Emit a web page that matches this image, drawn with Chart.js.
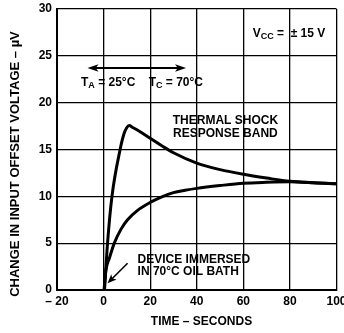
<!DOCTYPE html>
<html>
<head>
<meta charset="utf-8">
<script src="https://cdn.jsdelivr.net/npm/chart.js@4/dist/chart.umd.min.js"></script>
<style>
html,body{margin:0;padding:0;background:#fff;overflow:hidden;width:344px;height:333px;}
canvas{display:block;}
</style>
</head>
<body>
<canvas id="c" width="352" height="333"></canvas>
<script>
// ---- data ----
const xTicks = [-20, 0, 20, 40, 60, 80, 100];
const yTicks = [0, 5, 10, 15, 20, 25, 30];
const upperTime = [0.4, 1.7, 3.6, 7.1, 8.8, 10.0, 11.0, 12.5, 15, 20, 25, 30, 40, 50, 60, 70, 80, 90, 100];
const upperVolt = [0, 5.0, 10.0, 15.0, 16.7, 17.35, 17.55, 17.35, 17.0, 16.2, 15.4, 14.65, 13.55, 12.85, 12.35, 11.95, 11.6, 11.45, 11.35];
const lowerTime = [0.2, 1.0, 2.5, 4.6, 7.5, 10.3, 14.6, 20, 25, 30, 35, 40, 50, 60, 70, 80, 90, 100];
const lowerVolt = [0, 2.1, 3.4, 5.0, 6.5, 7.5, 8.5, 9.35, 9.95, 10.4, 10.65, 10.85, 11.15, 11.4, 11.5, 11.55, 11.45, 11.35];

const FONT = '"Liberation Sans", Arial, sans-serif';

function pts(t, v){ return t.map((x,i)=>({x:x, y:v[i]})); }

// annotations (data coordinates)
const notes = {
  vcc:   {x: 64, y: 27.0},
  temp:  {x: -9.7, y: 21.8},
  tArrow:{x1: -6.9, x2: 35.4, y: 23.7},
  band:  {x: 52.3, y1: 17.7, y2: 16.36},
  dev:   {x: 14.6, y1: 2.91, y2: 1.6},
  dArrow:{x1: 10.3, y1: 2.85, x2: 1.7, y2: 0.72}
};

function arrowHead(ctx, x, y, ang, len, w){
  ctx.save();
  ctx.translate(x,y); ctx.rotate(ang);
  ctx.beginPath();
  ctx.moveTo(0,0); ctx.lineTo(-len, -w); ctx.lineTo(-len*0.75, 0); ctx.lineTo(-len, w); ctx.closePath();
  ctx.fill();
  ctx.restore();
}

function subText(ctx, parts, x, y){
  let cx = x;
  parts.forEach(p=>{
    ctx.font = p[1] ? 'bold 9px ' + FONT : 'bold 12px ' + FONT;
    ctx.fillText(p[0], cx, y + (p[1] ? 2 : 0));
    cx += ctx.measureText(p[0]).width;
  });
}

const annot = {
  id: 'annot',
  afterDraw(chart){
    const ctx = chart.ctx, xs = chart.scales.x, ys = chart.scales.y;
    const X = v=>xs.getPixelForValue(v), Y = v=>ys.getPixelForValue(v);
    ctx.save();
    ctx.fillStyle = '#000'; ctx.strokeStyle = '#000';
    ctx.textBaseline = 'alphabetic'; ctx.textAlign = 'left';
    subText(ctx, [['V',0],['CC',1],[' =  ± 15 V',0]], X(notes.vcc.x), Y(notes.vcc.y));
    subText(ctx, [['T',0],['A',1],[' = 25°C    T',0],['C',1],[' = 70°C',0]], X(notes.temp.x), Y(notes.temp.y));
    const ax1 = X(notes.tArrow.x1), ax2 = X(notes.tArrow.x2), ay = Y(notes.tArrow.y);
    ctx.lineWidth = 2.2;
    ctx.beginPath(); ctx.moveTo(ax1+6, ay); ctx.lineTo(ax2-6, ay); ctx.stroke();
    arrowHead(ctx, ax1, ay, Math.PI, 11, 3.8);
    arrowHead(ctx, ax2, ay, 0, 11, 3.8);
    ctx.font = 'bold 12px ' + FONT;
    ctx.textAlign = 'center';
    ctx.fillText('THERMAL SHOCK', X(notes.band.x), Y(notes.band.y1));
    ctx.fillText('RESPONSE BAND', X(notes.band.x), Y(notes.band.y2));
    ctx.textAlign = 'left';
    ctx.fillText('DEVICE IMMERSED', X(notes.dev.x), Y(notes.dev.y1));
    ctx.fillText('IN 70°C OIL BATH', X(notes.dev.x), Y(notes.dev.y2));
    const bx1 = X(notes.dArrow.x1), by1 = Y(notes.dArrow.y1), bx2 = X(notes.dArrow.x2), by2 = Y(notes.dArrow.y2);
    const ang = Math.atan2(by2-by1, bx2-bx1);
    ctx.lineWidth = 1.6;
    ctx.beginPath(); ctx.moveTo(bx1, by1); ctx.lineTo(bx2 - 6*Math.cos(ang), by2 - 6*Math.sin(ang)); ctx.stroke();
    arrowHead(ctx, bx2, by2, ang, 9, 3.8);
    // axis titles
    ctx.textAlign = 'center'; ctx.textBaseline = 'middle';
    ctx.font = 'bold 12px ' + FONT;
    ctx.fillText('TIME – SECONDS', 201.5, 321.5);
    ctx.save();
    ctx.translate(15, 164);
    ctx.rotate(-Math.PI/2);
    ctx.font = 'bold 13px ' + FONT;
    ctx.fillText('CHANGE IN INPUT OFFSET VOLTAGE – µV', 0, 0);
    ctx.restore();
    ctx.restore();
  }
};

new Chart(document.getElementById('c'), {
  type: 'line',
  data: {
    datasets: [
      {label: 'upper', data: pts(upperTime, upperVolt), borderColor: '#000', borderWidth: 3, pointRadius: 0, fill: false, cubicInterpolationMode: 'monotone'},
      {label: 'lower', data: pts(lowerTime, lowerVolt), borderColor: '#000', borderWidth: 3, pointRadius: 0, fill: false, cubicInterpolationMode: 'monotone'}
    ]
  },
  options: {
    responsive: false,
    animation: false,
    events: [],
    layout: {padding: {left: 0, right: 15.5, top: 9, bottom: 0}},
    plugins: {legend: {display: false}, tooltip: {enabled: false}, title: {display: false}},
    scales: {
      x: {
        type: 'linear', min: xTicks[0], max: xTicks[xTicks.length-1],
        afterBuildTicks(s){ s.ticks = xTicks.map(v=>({value:v})); },
        afterFit(s){ s.height = 43; s.paddingLeft = 0; s.paddingRight = 0; },
        grid: {color: '#000', lineWidth: 1.3, drawTicks: false},
        border: {color: '#000', width: 2},
        ticks: {color: '#000', padding: 4, maxRotation: 0, autoSkip: false,
          font: {family: FONT, size: 12, weight: 'bold'},
          callback: v => v < 0 ? '– ' + Math.abs(v) : String(v)}
      },
      y: {
        type: 'linear', min: yTicks[0], max: yTicks[yTicks.length-1],
        afterBuildTicks(s){ s.ticks = yTicks.map(v=>({value:v})); },
        afterFit(s){ s.width = 57; s.paddingTop = 0; s.paddingBottom = 0; },
        grid: {color: '#000', lineWidth: 1.3, drawTicks: false},
        border: {color: '#000', width: 2},
        ticks: {color: '#000', padding: 5, autoSkip: false,
          font: {family: FONT, size: 12, weight: 'bold'}}
      }
    }
  },
  plugins: [annot]
});
</script>
</body>
</html>
